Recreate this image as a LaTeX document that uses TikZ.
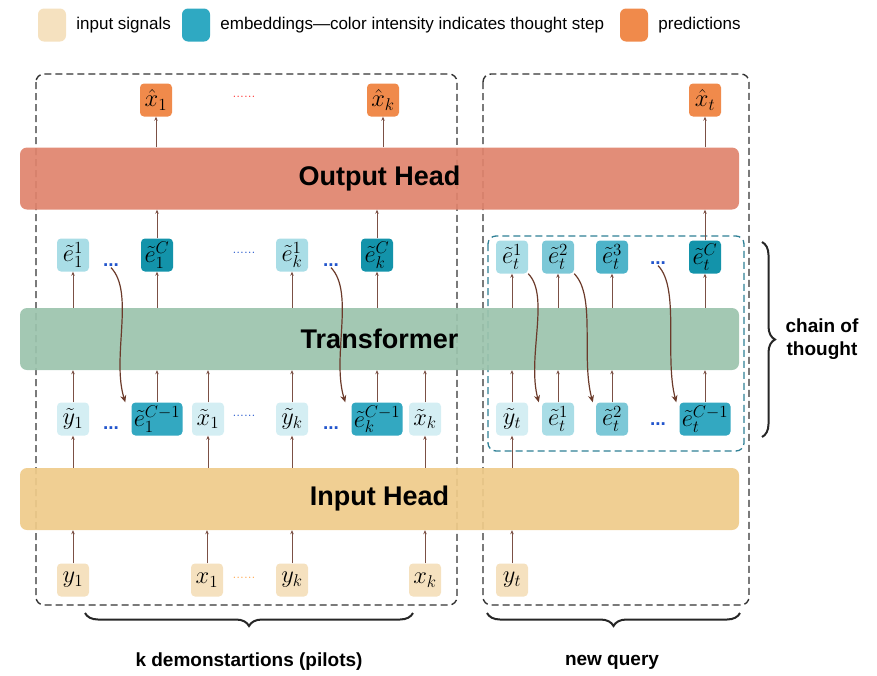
\RequirePackage{fix-cm}
\documentclass[tikz,border=0pt]{standalone}
\usepackage{graphicx}
\usepackage[no-math]{fontspec}
\newfontfamily\lab[Ligatures=TeX]{Liberation Sans}
\usetikzlibrary{arrows.meta,positioning,decorations.pathreplacing}

\definecolor{sigc}{HTML}{F5E1BF}
\definecolor{predc}{HTML}{F08A4B}
\definecolor{embc}{HTML}{2FA9C2}
\definecolor{e0c}{HTML}{D4EEF3}
\definecolor{e1c}{HTML}{A9DDE6}
\definecolor{e2c}{HTML}{7CC8D7}
\definecolor{e3c}{HTML}{4DB3C9}
\definecolor{eCmc}{HTML}{33A8C1}
\definecolor{eCc}{HTML}{1393AA}
\definecolor{outc}{HTML}{E0836D}
\definecolor{trc}{HTML}{9BC3AD}
\definecolor{inc}{HTML}{EFCB8A}
\definecolor{arrc}{HTML}{7B5045}
\definecolor{thinkc}{HTML}{6B3A2A}
\definecolor{tealc}{HTML}{2E7F95}
\definecolor{dotc}{HTML}{2255CC}

% simbolos grandes dentro de las cajas
\newcommand{\nm}[1]{\scalebox{1.18}{$#1$}}

\begin{document}
\begin{tikzpicture}[x=1pt,y=-1pt,
    box/.style={rounded corners=4pt, minimum width=32pt, minimum height=33pt, inner sep=1pt, font=\fontsize{20.74}{24}\selectfont},
    sig/.style={box, fill=sigc},
    pred/.style={box, fill=predc},
    emb/.style={box, fill=#1},
    wemb/.style={box, fill=#1, minimum width=51pt},
    bar/.style={rounded corners=7pt, minimum width=719pt, minimum height=62pt, fill opacity=0.92, text opacity=1, font=\lab\bfseries\fontsize{27}{30}\selectfont},
    arr/.style={draw=arrc, line width=0.9pt, -{Stealth[length=4pt,width=3.5pt]}},
    thinkarr/.style={draw=thinkc, line width=1.2pt, -{Stealth[length=7pt,width=6pt]}},
    dashbox/.style={draw=black!80, line width=1.4pt, dash pattern=on 7pt off 4pt, rounded corners=8pt},
    bigdots/.style={text=dotc, inner sep=1pt, font=\lab\bfseries\fontsize{19}{20}\selectfont},
    smalldots/.style={font=\fontsize{14}{16}\selectfont},
    brc/.style={decorate, decoration={brace, amplitude=13pt}, line width=2pt, black!85},
    lbl/.style={font=\lab\bfseries\fontsize{19}{23}\selectfont, align=center},
    lgtxt/.style={font=\lab\fontsize{17}{19}\selectfont, inner sep=0pt}]
    \useasboundingbox (0,0) rectangle (877,675);

    % leyenda
    \node[fill=sigc, rounded corners=6pt, minimum width=28pt, minimum height=33pt] (lg1) at (52,25) {};
    \node[lgtxt, right=10pt of lg1] (lt1) {input signals};
    \node[fill=embc, rounded corners=6pt, minimum width=28pt, minimum height=33pt] (lg2) at (196,25) {};
    \node[lgtxt, right=10pt of lg2] (lt2) {embeddings---color intensity indicates thought step};
    \node[fill=predc, rounded corners=6pt, minimum width=28pt, minimum height=33pt] (lg3) at (634,25) {};
    \node[lgtxt, right=10pt of lg3] (lt3) {predictions};

    % cajas punteadas
    \draw[dashbox] (36,74) rectangle (457,605);
    \draw[dashbox] (483,74) rectangle (749,605);
    \draw[dashbox, draw=tealc, line width=1.3pt] (488,236) rectangle (744,451);

    % bloques
    \node[bar, fill=outc] (outh) at (379.5,178.5) {Output Head};
    \node[bar, fill=trc] (trans) at (379.5,339) {Transformer};
    \node[bar, fill=inc] (inh) at (379.5,499) {Input Head};

    % predicciones
    \node[pred] (p1) at (156,100) {\nm{\hat{x}_1}};
    \node[pred] (pk) at (383,100) {\nm{\hat{x}_k}};
    \node[pred] (pt) at (705,100) {\nm{\hat{x}_t}};
    \node[smalldots, text=red!80] (pd) at (244,97) {......};

    % fila superior de embeddings
    \node[emb=e1c] (e11) at (73,255) {\nm{\tilde{e}_1^1}};
    \node[bigdots] (d11) at (111,265) {...};
    \node[emb=eCc] (e1C) at (157,255) {\nm{\tilde{e}_1^C}};
    \node[smalldots, text=dotc] (dm1) at (244,253) {......};
    \node[emb=e1c] (ek1) at (292,255) {\nm{\tilde{e}_k^1}};
    \node[bigdots] (dk1) at (331,265) {...};
    \node[emb=eCc] (ekC) at (377,255) {\nm{\tilde{e}_k^C}};
    \node[emb=e1c] (et1) at (512,257) {\nm{\tilde{e}_t^1}};
    \node[emb=e2c] (et2) at (558,257) {\nm{\tilde{e}_t^2}};
    \node[emb=e3c] (et3) at (612,257) {\nm{\tilde{e}_t^3}};
    \node[bigdots] (dt1) at (658,263) {...};
    \node[emb=eCc] (etC) at (705,257) {\nm{\tilde{e}_t^C}};

    % fila inferior de embeddings
    \node[emb=e0c] (y1t) at (73,419) {\nm{\tilde{y}_1}};
    \node[bigdots] (d12) at (111,428) {...};
    \node[wemb=eCmc] (e1Cm) at (157,419) {\nm{\tilde{e}_1^{C-1}}};
    \node[emb=e0c] (x1t) at (208,419) {\nm{\tilde{x}_1}};
    \node[smalldots, text=dotc] (dm2) at (244,416) {......};
    \node[emb=e0c] (ykt) at (292,419) {\nm{\tilde{y}_k}};
    \node[bigdots] (dk2) at (331,428) {...};
    \node[wemb=eCmc] (ekCm) at (377,419) {\nm{\tilde{e}_k^{C-1}}};
    \node[emb=e0c] (xkt) at (425,419) {\nm{\tilde{x}_k}};
    \node[emb=e0c] (ytt) at (512,419) {\nm{\tilde{y}_t}};
    \node[emb=e1c] (bt1) at (558,419) {\nm{\tilde{e}_t^1}};
    \node[emb=e2c] (bt2) at (612,419) {\nm{\tilde{e}_t^2}};
    \node[bigdots] (dt2) at (658,424) {...};
    \node[wemb=eCmc] (btCm) at (705,419) {\nm{\tilde{e}_t^{C-1}}};

    % entradas
    \node[sig] (y1) at (73,580) {\nm{y_1}};
    \node[sig] (x1) at (207,580) {\nm{x_1}};
    \node[smalldots, text=orange!70] (di) at (244,578) {......};
    \node[sig] (yk) at (292,580) {\nm{y_k}};
    \node[sig] (xk) at (425,580) {\nm{x_k}};
    \node[sig] (yt) at (512,580) {\nm{y_t}};

    % flechas verticales
    \foreach \n in {y1,x1,yk,xk,yt}
        \draw[arr] (\n.north) -- (\n.north |- inh.south);
    \foreach \n in {y1t,x1t,ykt,xkt,ytt}
        \draw[arr] (inh.north -| \n) -- (\n.south);
    \foreach \n in {y1t,e1Cm,x1t,ykt,ekCm,xkt,ytt,bt1,bt2,btCm}
        \draw[arr] (\n.north) -- (\n.north |- trans.south);
    \foreach \n in {e11,e1C,ek1,ekC,et1,et2,et3,etC}
        \draw[arr] (trans.north -| \n) -- (\n.south);
    \foreach \n in {e1C,ekC,etC}
        \draw[arr] (\n.north) -- (\n.north |- outh.south);
    \draw[arr] (outh.north -| p1) -- (p1.south);
    \draw[arr] (outh.north -| pk) -- (pk.south);
    \draw[arr] (outh.north -| pt) -- (pt.south);

    % cadena de pensamiento
    \draw[thinkarr] (d11.south) .. controls +(24,25) and +(-14,-45) .. ([xshift=-6pt]e1Cm.north west);
    \draw[thinkarr] (dk1.south) .. controls +(24,25) and +(-14,-45) .. ([xshift=-6pt]ekCm.north west);
    \draw[thinkarr] (et1.south east) .. controls +(22,22) and +(-12,-45) .. ([xshift=-3pt]bt1.north west);
    \draw[thinkarr] (et2.south east) .. controls +(22,22) and +(-12,-45) .. ([xshift=-3pt]bt2.north west);
    \draw[thinkarr] (dt1.south) .. controls +(22,22) and +(-12,-45) .. ([xshift=-3pt]btCm.north west);

    % llaves
    \draw[brc] (413,613) -- (85,613);
    \node[lbl] (kdem) at (249,662) {k demonstartions (pilots)};
    \draw[brc] (740,613) -- (487,613);
    \node[lbl] (nq) at (612,662) {new query};
    \draw[brc] (762,242) -- (762,437);
    \node[lbl] (cot) at (822,339) {chain of\\thought};
\end{tikzpicture}
\end{document}
